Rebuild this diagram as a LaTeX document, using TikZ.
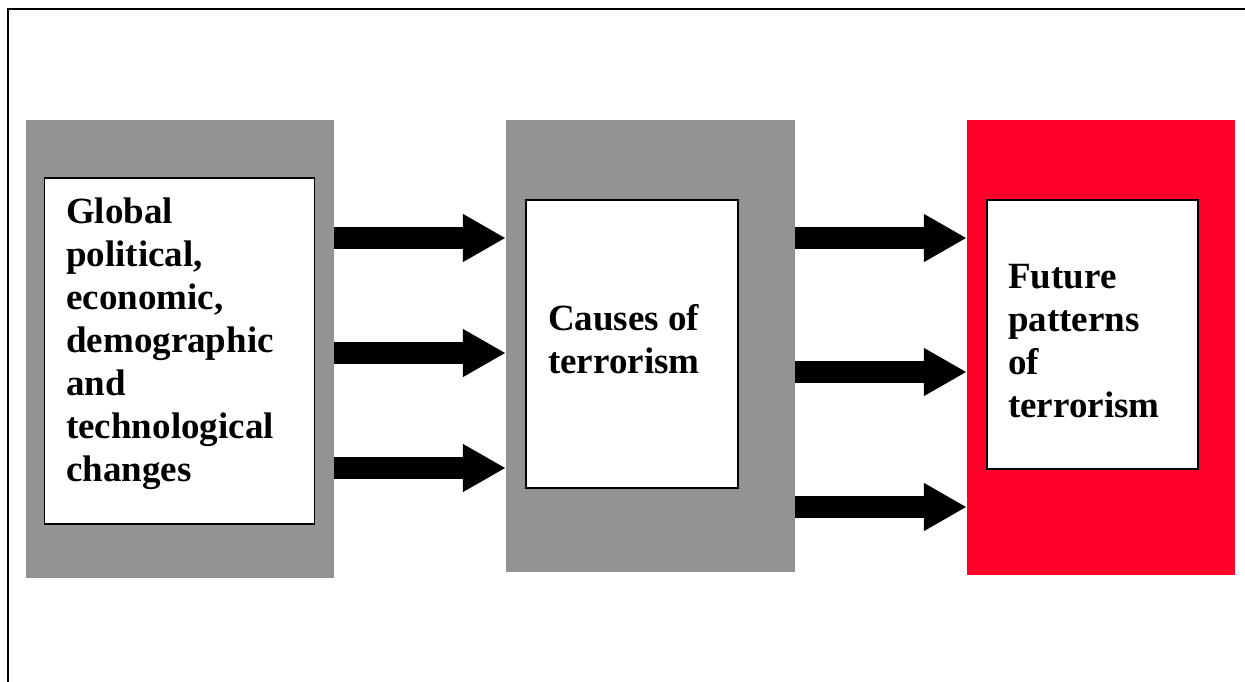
\documentclass[tikz,border=0pt]{standalone}
\usepackage{fontspec}
\setmainfont{Liberation Serif}
\usetikzlibrary{arrows.meta}
\definecolor{boxgray}{RGB}{147,147,147}
\definecolor{boxred}{RGB}{255,0,41}
\tikzset{
  outerbox/.style={draw=none, inner sep=0pt, minimum width=#1},
  innerbox/.style={draw=black, line width=1.6pt, fill=white, inner sep=0pt},
  label/.style={anchor=north west, inner sep=0pt, align=left, font=\bfseries\fontsize{37}{43}\selectfont},
  bigarrow/.style={draw=black, line width=22pt, -{Triangle[width=45pt,length=43pt]}},
  frameline/.style={line width=2pt, black}
}
\begin{document}
\begin{tikzpicture}[x=1pt,y=-1pt]
\useasboundingbox (0,0) rectangle (1245,682);
% frame
\coordinate (ftl) at (8,9);
\coordinate (fbl) at (8,682);
\coordinate (ftr) at (1245,9);
\draw[frameline] (fbl) -- (ftl) -- (ftr);
% outer boxes
\node[fill=boxgray, inner sep=0pt, minimum width=308pt, minimum height=458pt] (g1) at (180,349) {};
\node[fill=boxgray, inner sep=0pt, minimum width=289pt, minimum height=452pt] (g2) at (650.5,346) {};
\node[fill=boxred, inner sep=0pt, minimum width=268pt, minimum height=455pt] (g3) at (1101,347.5) {};
% inner boxes
\node[innerbox, minimum width=270pt, minimum height=346pt] (w1) at (179.3,351) {};
\node[innerbox, minimum width=212pt, minimum height=288pt] (w2) at (632,344) {};
\node[innerbox, minimum width=211pt, minimum height=269pt] (w3) at (1092.5,334.5) {};
% texts
\node[label] (t1) at (66,198) {Global\\political,\\economic,\\demographic\\and\\technological\\changes};
\node[label] (t2) at (548,304.5) {Causes of\\terrorism};
\node[label] (t3) at (1008,264.5) {Future\\patterns\\of\\terrorism};
% arrow rows
\coordinate (l1) at (0,238);
\coordinate (l2) at (0,353);
\coordinate (l3) at (0,468);
\coordinate (r1) at (0,238);
\coordinate (r2) at (0,372);
\coordinate (r3) at (0,507);
\draw[bigarrow] (g1.east |- l1) -- (g2.west |- l1);
\draw[bigarrow] (g1.east |- l2) -- (g2.west |- l2);
\draw[bigarrow] (g1.east |- l3) -- (g2.west |- l3);
\draw[bigarrow] (g2.east |- r1) -- (g3.west |- r1);
\draw[bigarrow] (g2.east |- r2) -- (g3.west |- r2);
\draw[bigarrow] (g2.east |- r3) -- (g3.west |- r3);
\end{tikzpicture}
\end{document}
